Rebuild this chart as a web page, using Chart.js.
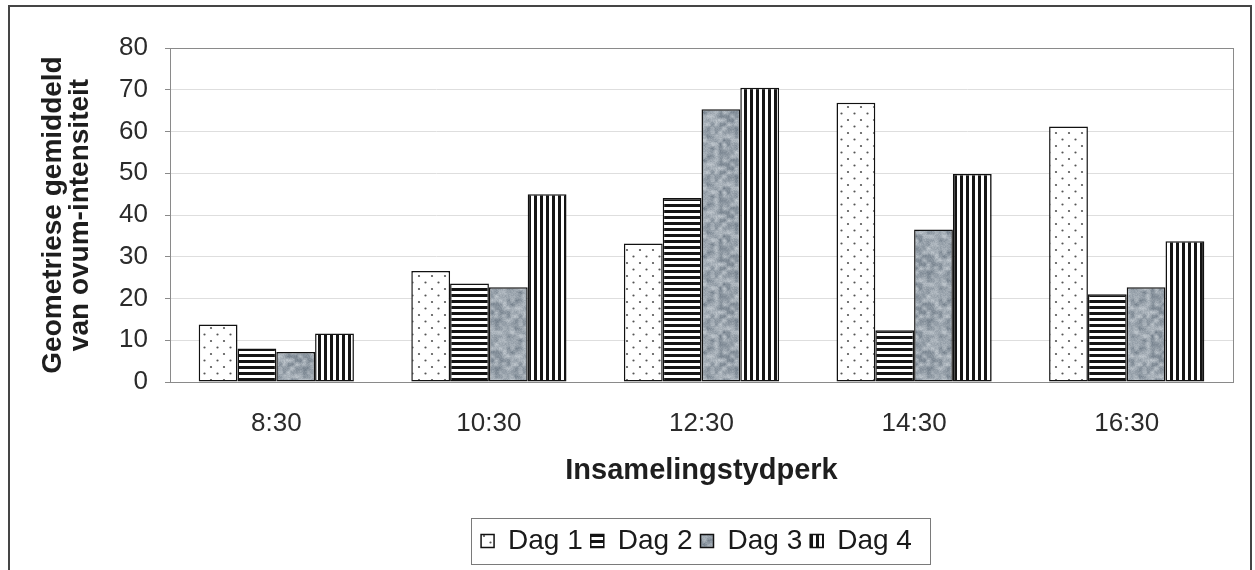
<!DOCTYPE html>
<html>
<head>
<meta charset="utf-8">
<style>
  html, body { margin: 0; padding: 0; background: #ffffff; }
  canvas { display: block; }
</style>
<script src="https://cdn.jsdelivr.net/npm/chart.js@4/dist/chart.umd.min.js"></script>
</head>
<body>
<canvas id="chart" width="1255" height="570"></canvas>
<script>
// Collection times (categories)
const categories = ['8:30', '10:30', '12:30', '14:30', '16:30'];

// Geometric mean ovum intensity per day
const dag1 = [13.8, 26.6, 33.2, 66.9, 61.2];
const dag2 = [8.0, 23.6, 44.1, 12.4, 21.0];
const dag3 = [7.2, 22.7, 65.3, 36.5, 22.7];
const dag4 = [11.6, 45.0, 70.5, 49.8, 33.7];

const seriesNames = ['Dag 1', 'Dag 2', 'Dag 3', 'Dag 4'];

// Value axis
const yMin = 0;
const yMax = 80;
const yStep = 10;

const yTitle = ['Geometriese gemiddeld', 'van ovum-intensiteit'];
const xTitle = 'Insamelingstydperk';

const FONT = "'Liberation Sans', Arial, Helvetica, sans-serif";

// ---- fill patterns ----
function makeTile(w, h, paint) {
  const c = document.createElement('canvas');
  c.width = w; c.height = h;
  const g = c.getContext('2d');
  paint(g, w, h);
  return document.createElement('canvas').getContext('2d').createPattern(c, 'repeat');
}

// staggered grey dots on white
const dotsPattern = makeTile(13, 13, (g, w, h) => {
  g.fillStyle = '#ffffff';
  g.fillRect(0, 0, w, h);
  g.fillStyle = '#555555';
  [[3, 3], [9.5, 9.5]].forEach(([x, y]) => {
    g.beginPath(); g.arc(x, y, 1.1, 0, Math.PI * 2); g.fill();
  });
});

// horizontal black stripes
const hStripes = makeTile(6, 6, (g, w, h) => {
  g.fillStyle = '#ffffff';
  g.fillRect(0, 0, w, h);
  g.fillStyle = '#141414';
  g.fillRect(0, 0, w, 3);
});

// vertical black stripes
const vStripes = makeTile(6, 6, (g, w, h) => {
  g.fillStyle = '#ffffff';
  g.fillRect(0, 0, w, h);
  g.fillStyle = '#141414';
  g.fillRect(0, 0, 3, h);
});

// mottled grey texture built from a hashed value-noise grid
function hash(x, y) {
  const s = Math.sin(x * 12.9898 + y * 78.233) * 43758.5453;
  return s - Math.floor(s);
}
const mottled = makeTile(48, 48, (g, w, h) => {
  const img = g.createImageData(w, h);
  const cell = 4, n = w / cell;
  const lattice = (i, j) => hash(((i % n) + n) % n, ((j % n) + n) % n);
  const lo = [112, 124, 136], hi = [198, 205, 211];
  for (let y = 0; y < h; y++) {
    for (let x = 0; x < w; x++) {
      const fx = x / cell, fy = y / cell;
      const i = Math.floor(fx), j = Math.floor(fy);
      const tx = fx - i, ty = fy - j;
      const sx = tx * tx * (3 - 2 * tx), sy = ty * ty * (3 - 2 * ty);
      const a = lattice(i, j), b = lattice(i + 1, j), c = lattice(i, j + 1), d = lattice(i + 1, j + 1);
      let v = (a * (1 - sx) + b * sx) * (1 - sy) + (c * (1 - sx) + d * sx) * sy;
      v = 0.75 * v + 0.25 * hash(x + 101, y + 57);
      const k = (y * w + x) * 4;
      for (let ch = 0; ch < 3; ch++) img.data[k + ch] = Math.round(lo[ch] + (hi[ch] - lo[ch]) * v);
      img.data[k + 3] = 255;
    }
  }
  g.putImageData(img, 0, 0);
});

const fills = [dotsPattern, hStripes, mottled, vStripes];
const seriesValues = [dag1, dag2, dag3, dag4];

// ---- decorations: outer frame, plot border, legend frame ----
const decorations = {
  id: 'decorations',
  afterLayout(chart) {
    // centre the legend under the plot area (slightly left of centre)
    const lg = chart.legend, ca = chart.chartArea;
    const shift = (ca.left + ca.right) / 2 - (lg.left + lg.right) / 2 - 5;
    lg.left += shift; lg.right += shift;
  },
  beforeDatasetsDraw(chart) {
    const {ctx, chartArea: a} = chart;
    ctx.save();
    ctx.strokeStyle = '#8a8a8a';
    ctx.lineWidth = 1;
    ctx.strokeRect(a.left + 0.5, a.top + 0.5, a.right - a.left, a.bottom - a.top);
    ctx.restore();
  },
  afterDraw(chart) {
    const ctx = chart.ctx;
    ctx.save();
    // legend frame
    const hb = chart.legend.legendHitBoxes;
    if (hb && hb.length) {
      const l = hb[0].left - 10;
      const r = hb[hb.length - 1].left + hb[hb.length - 1].width + 18;
      const t = hb[0].top - 9;
      const b = hb[0].top + hb[0].height + 9;
      ctx.strokeStyle = '#7a7a7a';
      ctx.lineWidth = 1;
      ctx.strokeRect(Math.round(l) + 0.5, Math.round(t) + 0.5, Math.round(r - l), Math.round(b - t));
    }
    // outer frame
    ctx.strokeStyle = '#454545';
    ctx.lineWidth = 2;
    ctx.beginPath();
    ctx.moveTo(9, 580);
    ctx.lineTo(9, 6);
    ctx.lineTo(1251, 6);
    ctx.lineTo(1251, 580);
    ctx.stroke();
    ctx.restore();
  }
};

new Chart(document.getElementById('chart'), {
  type: 'bar',
  data: {
    labels: categories,
    datasets: seriesNames.map((name, i) => ({
      label: name,
      data: seriesValues[i],
      backgroundColor: fills[i],
      borderColor: '#111111',
      borderWidth: 1.5,
      borderSkipped: false,
      barPercentage: 1.0,
      categoryPercentage: 0.73
    }))
  },
  options: {
    responsive: false,
    animation: false,
    devicePixelRatio: 1,
    layout: { padding: { left: 9, right: 22, top: 48, bottom: 5 } },
    plugins: {
      tooltip: { enabled: false },
      legend: {
        position: 'bottom',
        labels: {
          boxWidth: 13,
          boxHeight: 13,
          padding: 8,
          color: '#1a1a1a',
          font: { family: FONT, size: 28 }
        }
      }
    },
    scales: {
      x: {
        grid: { display: false, drawTicks: false },
        border: { display: true, color: '#5a5a5a', width: 1 },
        ticks: {
          color: '#2b2b2b',
          padding: 26,
          font: { family: FONT, size: 26 }
        },
        title: {
          display: true,
          text: xTitle,
          color: '#1e1e1e',
          font: { family: FONT, size: 29, weight: 'bold' },
          padding: { top: 0, bottom: 31 }
        },
        afterFit(scale) { scale.height = 137; }
      },
      y: {
        min: yMin,
        max: yMax,
        grid: {
          color: '#dedede',
          lineWidth: 1,
          drawTicks: true,
          tickLength: 5,
          tickColor: '#8a8a8a'
        },
        border: { display: true, color: '#8a8a8a', width: 1 },
        ticks: {
          stepSize: yStep,
          color: '#2b2b2b',
          padding: 17,
          font: { family: FONT, size: 26 }
        },
        title: {
          display: true,
          text: yTitle,
          color: '#1e1e1e',
          font: { family: FONT, size: 28, weight: 'bold', lineHeight: 0.95 },
          padding: { top: 31, bottom: 0 }
        },
        afterFit(scale) { scale.width = 161; }
      }
    }
  },
  plugins: [decorations]
});
</script>
</body>
</html>
